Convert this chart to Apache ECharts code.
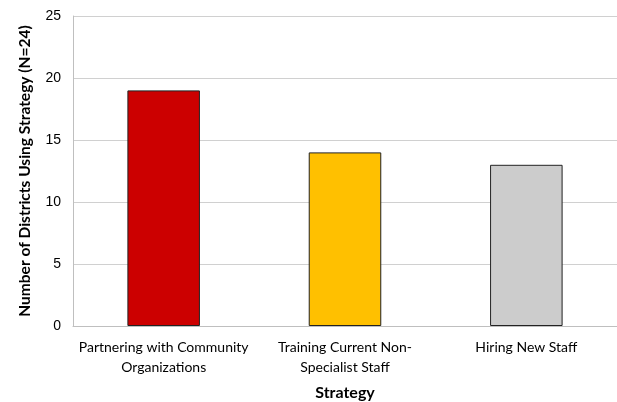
<!DOCTYPE html>
<html>
<head>
<meta charset="utf-8">
<script src="https://cdn.jsdelivr.net/npm/echarts@6/dist/echarts.min.js"></script>
<style>
  html, body { margin: 0; padding: 0; background: #fff; }
  #chart { width: 617px; height: 402px; }
</style>
</head>
<body>
<div id="chart"></div>
<script>
// Strategies used by districts and how many districts use each
const categories = [
  'Partnering with Community\nOrganizations',
  'Training Current Non-\nSpecialist Staff',
  'Hiring New Staff'
];
const districtCounts = [19, 14, 13];
const barColors = ['#cc0000', '#ffc000', '#cccccc'];
const yTicks = { min: 0, max: 25, interval: 5 };

const chart = echarts.init(document.getElementById('chart'), null, { renderer: 'canvas' });

chart.setOption({
  animation: false,
  backgroundColor: '#ffffff',
  grid: { left: 73, right: 0, top: 16, bottom: 76, outerBoundsMode: 'none', containLabel: false },
  xAxis: {
    type: 'category',
    data: categories,
    name: 'Strategy',
    nameLocation: 'middle',
    nameGap: 59,
    nameTextStyle: { fontFamily: 'Lato', fontWeight: 'bold', fontSize: 16, color: '#000' },
    axisLine: { lineStyle: { color: '#bfbfbf', width: 1 } },
    axisTick: { show: false },
    axisLabel: {
      fontFamily: 'Lato', fontSize: 14, color: '#000',
      margin: 11, lineHeight: 20, interval: 0
    }
  },
  yAxis: {
    type: 'value',
    min: yTicks.min, max: yTicks.max, interval: yTicks.interval,
    name: 'Number of Districts Using Strategy (N=24)',
    nameLocation: 'middle',
    nameGap: 40,
    nameTextStyle: { fontFamily: 'Lato', fontWeight: 'bold', fontSize: 15.5, color: '#000' },
    axisLine: { show: true, lineStyle: { color: '#bfbfbf', width: 1 } },
    axisTick: { show: false },
    splitLine: { lineStyle: { color: '#d0d0d0', width: 1 } },
    axisLabel: { fontFamily: 'Liberation Sans', fontSize: 14, color: '#000', margin: 12 }
  },
  series: [{
    type: 'bar',
    data: districtCounts.map((v, i) => ({ value: v, itemStyle: { color: barColors[i] } })),
    barWidth: '40%',
    itemStyle: { borderColor: '#222', borderWidth: 1 }
  }]
});
</script>
</body>
</html>
